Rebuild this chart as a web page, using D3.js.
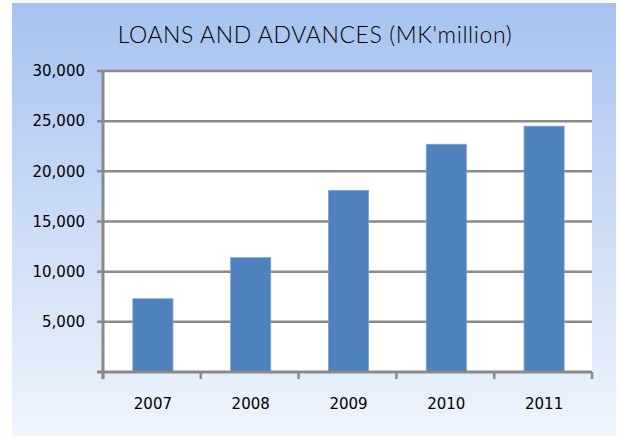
<!DOCTYPE html>
<html>
<head>
<meta charset="utf-8">
<script src="https://cdn.jsdelivr.net/npm/d3@7"></script>
<style>
  body { margin: 0; background: #fff; }
</style>
</head>
<body>
<script>
// chart data
var years = ["2007", "2008", "2009", "2010", "2011"];
var loans = [7300, 11400, 18100, 22700, 24500];
var yTicks = [5000, 10000, 15000, 20000, 25000, 30000];

var w = 621, h = 438;
var margin = {left: 103, top: 71, right: 29, bottom: 66};

var svg = d3.select("body").append("svg")
  .attr("width", w)
  .attr("height", h);

var defs = svg.append("defs");
var grad = defs.append("linearGradient")
  .attr("id", "bg")
  .attr("x1", 0).attr("y1", 0).attr("x2", 0).attr("y2", 1);
grad.append("stop").attr("offset", "0%").attr("stop-color", "#a7c2f0");
grad.append("stop").attr("offset", "100%").attr("stop-color", "#eff5fd");

svg.append("rect")
  .attr("x", 12).attr("y", 3)
  .attr("width", 604).attr("height", 433)
  .attr("fill", "url(#bg)");

var x = d3.scaleBand()
  .domain(years)
  .range([margin.left, w - margin.right])
  .paddingInner(0.59)
  .paddingOuter(0.295);

var y = d3.scaleLinear()
  .domain([0, 30000])
  .range([h - margin.bottom, margin.top]);

// plot area
svg.append("rect")
  .attr("x", margin.left).attr("y", margin.top)
  .attr("width", w - margin.left - margin.right)
  .attr("height", h - margin.top - margin.bottom)
  .attr("fill", "#fff");

// gridlines
svg.selectAll("line.grid")
  .data(yTicks)
  .enter()
  .append("line")
  .attr("class", "grid")
  .attr("x1", margin.left - 6)
  .attr("x2", w - margin.right)
  .attr("y1", function(d) { return y(d); })
  .attr("y2", function(d) { return y(d); })
  .attr("stroke", "#8a8a8a")
  .attr("stroke-width", 2.5);

// bars
svg.selectAll("rect.bar")
  .data(loans)
  .enter()
  .append("rect")
  .attr("class", "bar")
  .attr("x", function(d, i) { return x(years[i]) + 1; })
  .attr("y", function(d) { return y(d); })
  .attr("width", x.bandwidth())
  .attr("height", function(d) { return y(0) - y(d); })
  .attr("fill", "#4f81bd")
  .attr("stroke", "#7da1cf")
  .attr("stroke-width", 0.8);

// y axis
var yAxis = d3.axisLeft(y)
  .tickValues(yTicks)
  .tickFormat(d3.format(","))
  .tickSize(0)
  .tickPadding(18);

var gy = svg.append("g")
  .attr("transform", "translate(" + margin.left + ",0)")
  .call(yAxis);
gy.select(".domain").remove();
gy.selectAll("text")
  .attr("font-family", "DejaVu Sans, Verdana, sans-serif")
  .attr("font-size", "15px")
  .attr("fill", "#000");

svg.append("line")
  .attr("x1", margin.left).attr("x2", margin.left)
  .attr("y1", margin.top - 1).attr("y2", y(0) + 7)
  .attr("stroke", "#8a8a8a")
  .attr("stroke-width", 3);

// x axis
var step = x.step();
var bounds = d3.range(years.length + 1).map(function(i) {
  return margin.left + i * step;
});

svg.append("line")
  .attr("x1", margin.left - 6).attr("x2", w - margin.right)
  .attr("y1", y(0)).attr("y2", y(0))
  .attr("stroke", "#8a8a8a")
  .attr("stroke-width", 3);

svg.selectAll("line.xtick")
  .data(bounds)
  .enter()
  .append("line")
  .attr("class", "xtick")
  .attr("x1", function(d) { return d; })
  .attr("x2", function(d) { return d; })
  .attr("y1", y(0))
  .attr("y2", y(0) + 7)
  .attr("stroke", "#8a8a8a")
  .attr("stroke-width", 2.5);

svg.selectAll("text.xlab")
  .data(years)
  .enter()
  .append("text")
  .attr("class", "xlab")
  .text(function(d) { return d; })
  .attr("x", function(d) { return x(d) + x.bandwidth() / 2 + 1; })
  .attr("y", y(0) + 37)
  .attr("text-anchor", "middle")
  .attr("font-family", "DejaVu Sans, Verdana, sans-serif")
  .attr("font-size", "15px")
  .attr("fill", "#000");

// title
svg.append("text")
  .text("LOANS AND ADVANCES (MK'million)")
  .attr("x", 315)
  .attr("y", 43)
  .attr("text-anchor", "middle")
  .attr("font-family", "Lato, 'Open Sans', sans-serif")
  .attr("font-weight", 300)
  .attr("font-size", "23px")
  .attr("letter-spacing", "0.6px")
  .attr("fill", "#000");
</script>
</body>
</html>
